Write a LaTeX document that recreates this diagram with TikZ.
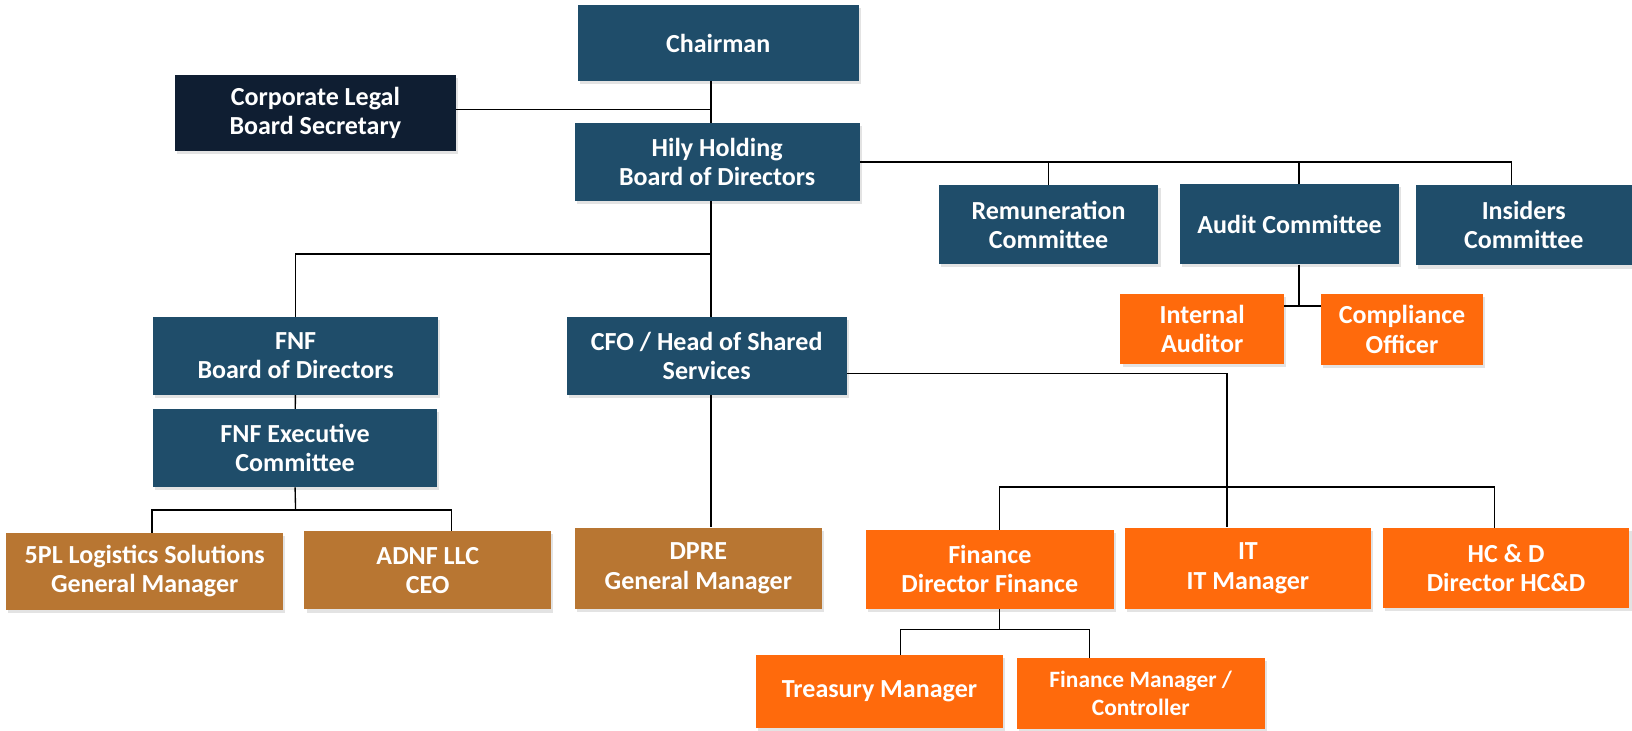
\documentclass[tikz,border=0pt]{standalone}
\usepackage{fontspec}
\setmainfont{Carlito}
\usetikzlibrary{shadows}
\definecolor{mnavy}{RGB}{31,77,106}
\definecolor{mink}{RGB}{15,30,50}
\definecolor{morange}{RGB}{255,106,12}
\definecolor{mbrown}{RGB}{184,118,50}
\tikzset{orgbox/.style = {fill=mnavy, text=white, inner sep=0, align=center,
                          font=\fontsize{25}{28}\selectfont\bfseries,
                          drop shadow={opacity=0.22, shadow xshift=2pt, shadow yshift=-3pt}}}
\tikzset{legalbox/.style = {orgbox, fill=mink}}
\tikzset{staffbox/.style = {orgbox, fill=morange}}
\tikzset{firmbox/.style = {orgbox, fill=mbrown}}
\tikzset{link/.style = {line width=1.3pt}}

\begin{document}
\begin{tikzpicture}[x=1pt, y=-1pt]
    \useasboundingbox (0, 0) rectangle (1568, 702);

    % board level
    \node [orgbox, minimum width=270, minimum height=73] (chair) at (690, 41.5) {Chairman};
    \node [legalbox, minimum width=270, minimum height=73] (legal) at (303, 108.5) {Corporate Legal\\Board Secretary};
    \node [orgbox, minimum width=274, minimum height=75] (hily) at (689, 155.5) {Hily Holding\\Board of Directors};

    \node [orgbox, minimum width=211, minimum height=76] (remun) at (1007.5, 216) {Remuneration\\Committee};
    \node [orgbox, minimum width=210, minimum height=77] (audit) at (1239, 215.5) {Audit Committee};
    \node [orgbox, minimum width=208, minimum height=77] (insiders) at (1464, 216.5) {Insiders\\Committee};
    \node [staffbox, minimum width=157, minimum height=67] (auditor) at (1155, 316) {Internal\\Auditor};
    \node [staffbox, minimum width=156, minimum height=68] (compliance) at (1347, 316.5) {Compliance\\Officer};

    % FNF branch
    \node [orgbox, minimum width=274, minimum height=75] (fnfboard) at (284, 342) {FNF\\Board of Directors};
    \node [orgbox, minimum width=273, minimum height=75] (fnfexec) at (283.5, 430.5) {FNF Executive\\Committee};
    \node [firmbox, minimum width=266, minimum height=74] (spl) at (139, 549) {5PL Logistics Solutions\\General Manager};
    \node [firmbox, minimum width=237, minimum height=75] (adnf) at (411, 548) {ADNF LLC\\CEO};

    % shared services
    \node [orgbox, minimum width=269, minimum height=75] (cfo) at (679, 342) {CFO / Head of Shared\\Services};
    \node [firmbox, minimum width=238, minimum height=78] (dpre) at (671, 546) {DPRE\\General Manager};
    \node [staffbox, minimum width=238, minimum height=76] (finance) at (951, 547) {Finance\\Director Finance};
    \node [staffbox, minimum width=236, minimum height=78] (it) at (1199, 546) {IT\\IT Manager};
    \node [staffbox, minimum width=237, minimum height=77] (hcd) at (1447, 546) {HC \& D\\Director HC\&D};
    \node [staffbox, minimum width=237, minimum height=70] (treasury) at (845, 664.5) {Treasury Manager};
    \node [staffbox, minimum width=238, minimum height=68, font=\fontsize{22.5}{27}\selectfont\bfseries] (controller) at (1096, 666) {Finance Manager /\\Controller};

    \coordinate (trunk) at (683, 244);
    \coordinate (legaltap) at (683, 105);
    \coordinate (auditfork) at (1248, 294);
    \coordinate (fnffork) at (284, 490);
    \coordinate (itfork) at (1179, 468);
    \coordinate (finfork) at (960, 605);

    \draw [link] (chair.south -| trunk) -- (hily.north -| trunk);
    \draw [link] (legal.east |- legaltap) -- (legaltap);
    \draw [link] (hily.east) -| ([xshift=-12]insiders.north);
    \draw [link] (remun.north) -- (remun.north |- hily.east);
    \draw [link] ([xshift=9]audit.north) -- ([xshift=9]audit.north |- hily.east);
    \draw [link] ([xshift=9]audit.south) -- (auditfork);
    \draw [link] (auditor.east |- auditfork) -- (compliance.west |- auditfork);

    \draw [link] (hily.south -| trunk) -- (cfo.north -| trunk);
    \draw [link] (trunk) -| (fnfboard.north);
    \draw [link] (fnfboard) -- (fnfexec);
    \draw [link] (fnfexec.south) -- (fnffork);
    \draw [link] ([xshift=7]spl.north) |- (fnffork) -| ([xshift=23]adnf.north);

    \draw [link] (cfo.south -| trunk) -- (dpre.north -| trunk);
    \draw [link] ([yshift=-17]cfo.east) -| ([xshift=-20]it.north);
    \draw [link] ([xshift=9]finance.north) |- (itfork) -| ([xshift=-11]hcd.north);
    \draw [link] ([xshift=9]finance.south) -- (finfork);
    \draw [link] ([xshift=20]treasury.north) |- (finfork) -| ([xshift=-49]controller.north);
  \end{tikzpicture}
\end{document}
